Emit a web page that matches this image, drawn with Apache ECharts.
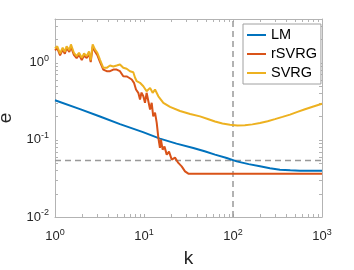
<!DOCTYPE html>
<html>
<head>
<meta charset="utf-8">
<script src="https://cdn.jsdelivr.net/npm/echarts@6/dist/echarts.min.js"></script>
<style>html,body{margin:0;padding:0;background:#fff;}#c{width:354px;height:270px;}</style>
</head>
<body>
<div id="c"></div>
<script>
// ---- data ----
const lmK = [1, 1.91, 3.2, 5.37, 9.75, 15.1, 23.2, 35.8, 48, 62.8, 85, 110, 150, 201, 260, 337, 440, 566, 750, 1000];
const lmE = [0.327, 0.251, 0.201, 0.160, 0.126, 0.104, 0.0895, 0.0787, 0.0712, 0.0644, 0.0582, 0.0527, 0.0485, 0.0454, 0.0428, 0.0411, 0.0403, 0.0399, 0.0398, 0.0398];

const rsvrgK = [1, 1.06, 1.14, 1.22, 1.29, 1.35, 1.45, 1.51, 1.63, 1.75, 1.86, 2.0, 2.12, 2.27, 2.41, 2.52, 2.65, 2.81, 2.99, 3.2,
  3.49, 3.81, 4.15, 4.52, 4.93, 5.37, 5.85, 6.44, 7.28, 7.72, 8.13, 8.63, 9.02, 9.38, 9.83, 10.26, 10.7, 11.2, 11.7, 12.2,
  12.7, 13.3, 13.9, 14.5, 15.1, 15.5, 16.2, 17.0, 18.0, 19.1, 20.5, 22.3, 24.3, 26.5, 28.9, 31.5, 1000];
const rsvrgE = [1.45, 1.55, 1.25, 1.48, 1.31, 1.55, 1.38, 1.62, 1.27, 1.15, 1.27, 1.09, 1.24, 1.15, 1.31, 1.02, 1.62, 1.40, 1.26, 1.03,
  0.818, 0.778, 0.778, 0.818, 0.818, 0.778, 0.670, 0.664, 0.607, 0.550, 0.450, 0.408, 0.334, 0.411, 0.368, 0.303, 0.408, 0.388, 0.248, 0.303,
  0.202, 0.226, 0.166, 0.106, 0.0787, 0.101, 0.0748, 0.0818, 0.0644, 0.0705, 0.0555, 0.0589, 0.0503, 0.0454, 0.0391, 0.0365, 0.0365];

const svrgK = [1, 1.06, 1.14, 1.22, 1.29, 1.35, 1.45, 1.51, 1.63, 1.75, 1.86, 2.0, 2.12, 2.27, 2.41, 2.52, 2.65, 2.81, 2.99, 3.2,
  3.49, 3.81, 4.15, 4.52, 4.93, 5.37, 5.85, 6.39, 6.96, 7.58, 7.92, 8.28, 9.02, 9.83, 10.3, 10.7, 11.7, 12.5, 13.3, 14.5,
  16.5, 19.6, 25.4, 33, 42.6, 52, 62.8, 76, 92.5, 112, 136, 165, 201, 245, 296, 360, 437, 530, 644, 800, 1000];
const svrgE = [1.53, 1.64, 1.32, 1.57, 1.39, 1.64, 1.46, 1.73, 1.35, 1.22, 1.35, 1.16, 1.32, 1.22, 1.40, 1.08, 1.73, 1.49, 1.35, 1.10,
  0.861, 0.861, 0.922, 0.895, 0.922, 0.951, 0.861, 0.836, 0.778, 0.755, 0.644, 0.577, 0.550, 0.497, 0.523, 0.428, 0.473, 0.408, 0.450, 0.368,
  0.303, 0.268, 0.237, 0.217, 0.202, 0.187, 0.173, 0.163, 0.157, 0.154, 0.155, 0.159, 0.166, 0.175, 0.186, 0.199, 0.213, 0.231, 0.250, 0.271, 0.294];

const refE = 0.054;   // horizontal dashed reference
const refK = 100;     // vertical dashed reference

const xMajor = [1, 10, 100, 1000];
const yMajor = [0.01, 0.1, 1];
const xMinor = [1,2,3,4,5,6,7,8,9,10,20,30,40,50,60,70,80,90,100,200,300,400,500,600,700,800,900,1000];
const yMinor = [0.01,0.02,0.03,0.04,0.05,0.06,0.07,0.08,0.09,0.1,0.2,0.3,0.4,0.5,0.6,0.7,0.8,0.9,1,2,3];

const xMin = 1, xMax = 1000, yMin = 0.01, yMax = 3.7;
const names = ['LM', 'rSVRG', 'SVRG'];
const colors = ['#0072BD', '#D95319', '#EDB120'];

const zip = (a, b) => a.map((v, i) => [v, b[i]]);
const FONT = 'Liberation Sans';
const AX = '#b3b3b3';

function powLabel(v) {
  const e = Math.round(Math.log10(v));
  return '{b|10}{s|' + e + '}';
}
const rich = {
  b: { fontSize: 13, fontFamily: FONT, color: '#262626' },
  s: { fontSize: 9, fontFamily: FONT, color: '#262626', padding: [0, 0, 8, 0] }
};

function xAx(pos, showLabel) {
  return {
    type: 'log', logBase: 10, position: pos, min: xMin, max: xMax,
    axisLine: { show: true, onZero: false, lineStyle: { color: AX, width: 1 } },
    axisTick: { show: true, inside: true, length: 3, customValues: xMinor, lineStyle: { color: AX } },
    minorTick: { show: false },
    axisLabel: { show: showLabel, customValues: xMajor, formatter: powLabel, rich: rich, margin: 11 },
    splitLine: { show: false },
    name: showLabel ? 'k' : '', nameLocation: 'middle', nameGap: 32,
    nameTextStyle: { fontSize: 19, fontFamily: FONT, color: '#262626' }
  };
}
function yAx(pos, showLabel) {
  return {
    type: 'log', logBase: 10, position: pos, min: yMin, max: yMax,
    axisLine: { show: true, onZero: false, lineStyle: { color: AX, width: 1 } },
    axisTick: { show: true, inside: true, length: 3, customValues: yMinor, lineStyle: { color: AX } },
    minorTick: { show: false },
    axisLabel: { show: showLabel, customValues: yMajor, formatter: powLabel, rich: rich, margin: 6 },
    splitLine: { show: false },
    name: showLabel ? 'e' : '', nameLocation: 'middle', nameGap: 36,
    nameTextStyle: { fontSize: 19, fontFamily: FONT, color: '#262626' }
  };
}

const dataSets = [zip(lmK, lmE), zip(rsvrgK, rsvrgE), zip(svrgK, svrgE)];
const series = [
  {
    name: 'hline', type: 'line', data: [[xMin, refE], [xMax, refE]], showSymbol: false, silent: true,
    lineStyle: { color: '#999999', width: 1.5, type: [6, 4] }, z: 1
  },
  {
    name: 'vline', type: 'line', data: [[refK, yMin], [refK, yMax]], showSymbol: false, silent: true,
    lineStyle: { color: '#999999', width: 1.5, type: [6, 4] }, z: 1
  }
];
names.forEach((n, i) => {
  series.push({
    name: n, type: 'line', data: dataSets[i], showSymbol: false, symbol: 'none',
    lineStyle: { color: colors[i], width: 2 }, itemStyle: { color: colors[i] }, z: 2 + i
  });
});

const chart = echarts.init(document.getElementById('c'), null, { renderer: 'canvas' });
chart.setOption({
  animation: false,
  backgroundColor: '#ffffff',
  grid: { left: 55, right: 32, top: 19, bottom: 53, containLabel: false, outerBoundsMode: 'none' },
  xAxis: [xAx('bottom', true), xAx('top', false)],
  yAxis: [yAx('left', true), yAx('right', false)],
  legend: {
    data: names, orient: 'vertical', left: 243, top: 24,
    icon: 'rect',
    backgroundColor: '#ffffff', borderColor: '#a0a0a0', borderWidth: 1,
    padding: [3, 4, 3, 4], itemGap: 3, itemWidth: 19, itemHeight: 2,
    textStyle: { fontSize: 14.5, fontFamily: FONT, color: '#000', lineHeight: 16 }
  },
  series: series
});
</script>
</body>
</html>
